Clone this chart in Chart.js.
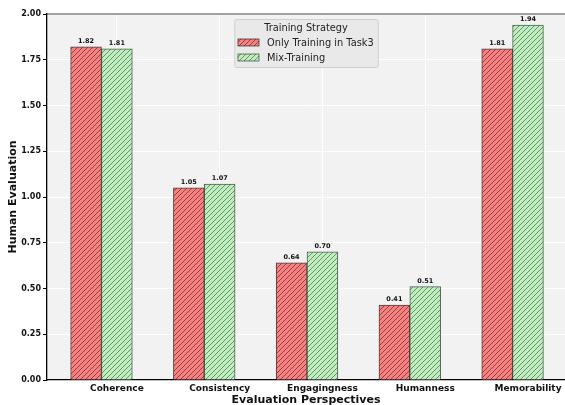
<!DOCTYPE html>
<html>
<head>
<meta charset="utf-8">
<script src="https://cdn.jsdelivr.net/npm/chart.js@4.4.1/dist/chart.umd.min.js"></script>
<style>
  html, body { margin: 0; padding: 0; background: #fff; overflow: hidden; }
</style>
</head>
<body>
<canvas id="chart" width="565" height="405"></canvas>
<script>
// ---- Data ----
const categories  = ['Coherence', 'Consistency', 'Engagingness', 'Humanness', 'Memorability'];
const onlyTask3   = [1.82, 1.05, 0.64, 0.41, 1.81];
const mixTraining = [1.81, 1.07, 0.70, 0.51, 1.94];
const seriesNames = ['Only Training in Task3', 'Mix-Training'];
const yTicks      = [0, 0.25, 0.5, 0.75, 1.0, 1.25, 1.5, 1.75, 2.0];
const legendTitle = 'Training Strategy';

const FONT = "'DejaVu Sans', sans-serif";
const canvas = document.getElementById('chart');
const ctx = canvas.getContext('2d');

// diagonal "///" hatch over a flat fill
function hatch(fill, line) {
    const s = 5;
    const tile = document.createElement('canvas');
    tile.width = s; tile.height = s;
    const g = tile.getContext('2d');
    g.fillStyle = fill;
    g.fillRect(0, 0, s, s);
    g.strokeStyle = line;
    g.lineWidth = 0.85;
    g.beginPath();
    g.moveTo(0, s);     g.lineTo(s, 0);
    g.moveTo(-1, 1);    g.lineTo(1, -1);
    g.moveTo(s - 1, s + 1); g.lineTo(s + 1, s - 1);
    g.stroke();
    return ctx.createPattern(tile, 'repeat');
}

const redFill   = hatch('rgb(250,128,128)', 'rgba(60,30,30,0.7)');
const greenFill = hatch('rgb(190,237,190)', 'rgba(40,70,40,0.65)');

// red bar sits one bar-width left of the tick, green bar on the tick
const BAR_SHIFT = 0.3;

// ---- Plugins ----
const plotBackground = {
    id: 'plotBackground',
    beforeDraw(chart) {
        const { ctx, chartArea: a } = chart;
        ctx.save();
        ctx.fillStyle = '#f2f2f2';
        ctx.fillRect(a.left, a.top, a.right - a.left, a.bottom - a.top);
        ctx.restore();
    },
    afterDraw(chart) {
        const { ctx, chartArea: a } = chart;
        ctx.save();
        ctx.strokeStyle = '#444';
        ctx.lineWidth = 1.2;
        ctx.beginPath();
        ctx.moveTo(a.left, a.top);
        ctx.lineTo(a.right, a.top);
        ctx.stroke();
        ctx.restore();
    }
};

const barLabels = {
    id: 'barLabels',
    afterDatasetsDraw(chart) {
        const ctx = chart.ctx;
        ctx.save();
        ctx.font = `bold 6.5px ${FONT}`;
        ctx.fillStyle = '#111';
        ctx.textAlign = 'center';
        ctx.textBaseline = 'bottom';
        chart.data.datasets.forEach((ds, di) => {
            chart.getDatasetMeta(di).data.forEach((bar, i) => {
                ctx.fillText(ds.data[i].y.toFixed(2), bar.x, bar.y - 2.5);
            });
        });
        ctx.restore();
    }
};

const boxLegend = {
    id: 'boxLegend',
    afterDraw(chart) {
        const { ctx, chartArea: a } = chart;
        const fontPx = 9.8;
        ctx.save();
        ctx.font = `${fontPx}px ${FONT}`;
        const textW = Math.max(...chart.data.datasets.map(d => ctx.measureText(d.label).width));
        const padL = 3.7, patchW = 21, patchH = 7, gap = 8, padR = 4;
        const w = padL + patchW + gap + textW + padR;
        const h = 48;
        const x0 = (a.left + a.right) / 2 - w / 2;
        const y0 = a.top + 5;

        ctx.fillStyle = 'rgba(232,232,232,0.95)';
        ctx.strokeStyle = '#cfcfcf';
        ctx.lineWidth = 1;
        ctx.beginPath();
        ctx.roundRect(x0 + 0.5, y0 + 0.5, w, h, 2);
        ctx.fill();
        ctx.stroke();

        ctx.fillStyle = '#222';
        ctx.textAlign = 'center';
        ctx.textBaseline = 'middle';
        ctx.fillText(legendTitle, x0 + w / 2, y0 + 9);

        ctx.textAlign = 'left';
        chart.data.datasets.forEach((ds, i) => {
            const cy = y0 + 23.5 + i * 15;
            ctx.fillStyle = ds.backgroundColor;
            ctx.fillRect(x0 + padL, cy - patchH / 2, patchW, patchH);
            ctx.strokeStyle = ds.borderColor;
            ctx.lineWidth = 0.8;
            ctx.strokeRect(x0 + padL, cy - patchH / 2, patchW, patchH);
            ctx.fillStyle = '#222';
            ctx.fillText(ds.label, x0 + padL + patchW + gap, cy + 0.5);
        });
        ctx.restore();
    }
};

// ---- Chart ----
new Chart(canvas, {
    type: 'bar',
    data: {
        datasets: [
            {
                label: seriesNames[0],
                data: onlyTask3.map((v, i) => ({ x: i - BAR_SHIFT, y: v })),
                backgroundColor: redFill,
                borderColor: 'rgba(50,30,30,0.85)',
                borderWidth: 1,
            },
            {
                label: seriesNames[1],
                data: mixTraining.map((v, i) => ({ x: i, y: v })),
                backgroundColor: greenFill,
                borderColor: 'rgba(40,60,40,0.8)',
                borderWidth: 1,
            },
        ],
    },
    options: {
        responsive: false,
        animation: false,
        devicePixelRatio: 1,
        grouped: false,
        categoryPercentage: 1,
        barPercentage: 1,
        layout: { padding: { top: 14, right: 0, left: 0, bottom: 0 } },
        plugins: {
            legend: { display: false },
            tooltip: { enabled: false },
        },
        scales: {
            x: {
                type: 'linear',
                offset: false,
                min: -0.68,
                max: 4.36,
                afterBuildTicks: (scale) => {
                    scale.ticks = categories.map((_, i) => ({ value: i }));
                },
                afterFit: (scale) => { scale.height = 25; },
                grid: { color: '#ffffff', lineWidth: 1, drawTicks: false, offset: false },
                border: { color: '#000', width: 1.3 },
                ticks: {
                    autoSkip: false,
                    maxRotation: 0,
                    padding: 3,
                    color: '#111',
                    font: { family: FONT, size: 9, weight: 'bold' },
                    callback: (v) => categories[v],
                },
                title: {
                    display: true,
                    text: 'Evaluation Perspectives',
                    color: '#111',
                    padding: { top: 0, bottom: -2 },
                    font: { family: FONT, size: 11, weight: 'bold' },
                },
            },
            y: {
                min: 0,
                max: 2,
                afterBuildTicks: (scale) => {
                    scale.ticks = yTicks.map(v => ({ value: v }));
                },
                afterFit: (scale) => { scale.width = 47; },
                grid: { color: '#ffffff', lineWidth: 1, tickLength: 4, tickColor: '#000' },
                border: { color: '#000', width: 1.3 },
                ticks: {
                    padding: 2,
                    color: '#111',
                    font: { family: FONT, size: 8, weight: 'bold' },
                    callback: (v) => v.toFixed(2),
                },
                title: {
                    display: true,
                    text: 'Human Evaluation',
                    color: '#111',
                    padding: { top: 7, bottom: 0 },
                    font: { family: FONT, size: 11, weight: 'bold' },
                },
            },
        },
    },
    plugins: [plotBackground, barLabels, boxLegend],
});
</script>
</body>
</html>
